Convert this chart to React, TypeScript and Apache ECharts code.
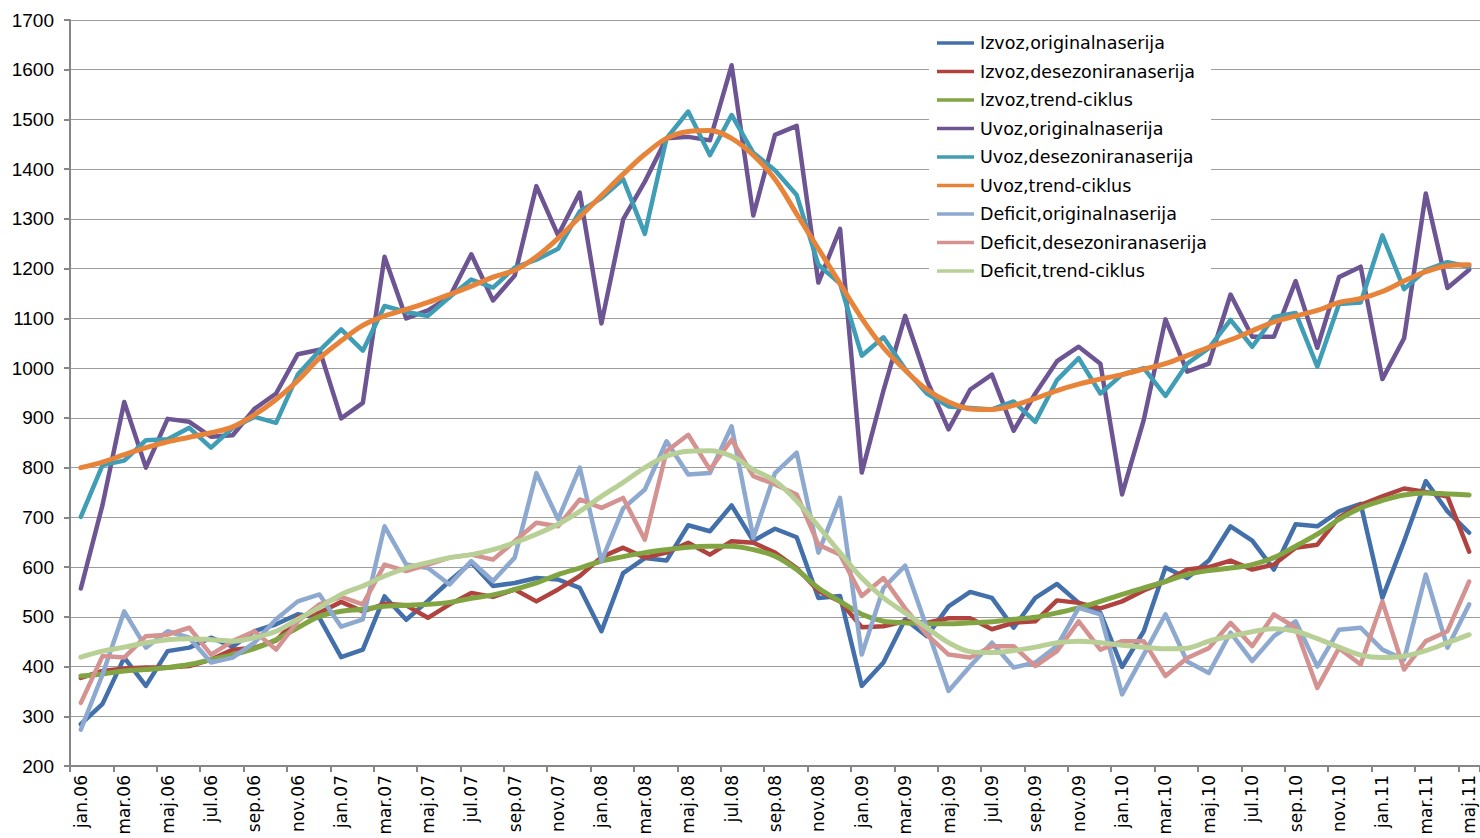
import React, { useEffect, useRef } from "react";
import * as echarts from "echarts";

const monthNames = ["jan", "feb", "mar", "apr", "maj", "jun", "jul", "avg", "sep", "okt", "nov", "dec"];
const years = ["06", "07", "08", "09", "10", "11"];
const categories: string[] = [];
for (const y of years) {
  for (const m of monthNames) {
    categories.push(m + "." + y);
  }
}
const months = categories.slice(0, 65);

const izvozOriginal = [284, 325, 418, 361, 431, 438, 458, 440, 471, 485, 505, 498, 419, 434, 541, 494, 532, 572, 609, 562, 568, 578, 575, 558, 471, 588, 618, 613, 684, 672, 724, 653, 677, 660, 538, 542, 361, 408, 495, 461, 521, 550, 538, 478, 538, 566, 528, 508, 399, 471, 599, 578, 613, 682, 653, 595, 686, 682, 712, 727, 538, 652, 773, 712, 669];
const izvozDesez = [377, 391, 396, 398, 398, 401, 414, 434, 438, 452, 499, 508, 530, 511, 526, 523, 498, 525, 548, 540, 555, 531, 555, 582, 620, 639, 619, 629, 649, 625, 652, 649, 629, 598, 552, 531, 479, 481, 491, 488, 497, 497, 475, 488, 491, 533, 528, 517, 531, 553, 571, 595, 600, 613, 595, 605, 639, 645, 700, 725, 742, 758, 751, 742, 631];
const izvozTrend = [381, 385, 391, 394, 398, 404, 414, 424, 436, 454, 478, 501, 511, 515, 521, 523, 525, 529, 537, 544, 555, 568, 585, 598, 612, 621, 629, 635, 640, 642, 642, 635, 622, 595, 558, 531, 505, 491, 488, 486, 486, 488, 490, 495, 499, 508, 518, 531, 545, 558, 571, 585, 593, 598, 605, 619, 642, 666, 696, 719, 734, 745, 749, 747, 745];
const uvozOriginal = [557, 725, 932, 800, 898, 892, 862, 865, 918, 949, 1028, 1037, 899, 930, 1224, 1100, 1116, 1143, 1229, 1136, 1186, 1366, 1267, 1353, 1090, 1299, 1375, 1462, 1465, 1458, 1609, 1307, 1469, 1487, 1172, 1280, 790, 955, 1105, 976, 877, 957, 987, 874, 949, 1014, 1043, 1009, 746, 896, 1098, 993, 1009, 1148, 1063, 1063, 1175, 1041, 1183, 1204, 978, 1060, 1351, 1161, 1198];
const uvozDesez = [701, 805, 814, 855, 857, 880, 840, 880, 902, 890, 987, 1035, 1078, 1035, 1125, 1113, 1105, 1143, 1178, 1162, 1202, 1218, 1240, 1315, 1342, 1380, 1270, 1462, 1516, 1428, 1509, 1433, 1398, 1348, 1208, 1170, 1025, 1062, 998, 949, 923, 920, 917, 933, 892, 976, 1020, 949, 987, 1000, 944, 1009, 1040, 1097, 1043, 1103, 1111, 1003, 1129, 1132, 1267, 1159, 1197, 1213, 1204];
const uvozTrend = [800, 811, 826, 840, 852, 861, 870, 882, 906, 937, 975, 1020, 1055, 1086, 1105, 1118, 1132, 1148, 1165, 1183, 1197, 1224, 1261, 1304, 1347, 1390, 1430, 1462, 1476, 1478, 1462, 1428, 1380, 1310, 1240, 1170, 1100, 1041, 996, 957, 932, 918, 917, 925, 939, 955, 968, 978, 987, 998, 1009, 1025, 1042, 1057, 1075, 1093, 1105, 1116, 1132, 1140, 1154, 1175, 1194, 1206, 1208];
const deficitOriginal = [273, 384, 511, 438, 471, 458, 408, 418, 448, 495, 531, 545, 480, 495, 682, 605, 598, 565, 612, 572, 619, 789, 696, 800, 612, 718, 756, 853, 786, 789, 883, 659, 789, 830, 629, 739, 424, 558, 603, 478, 351, 401, 448, 398, 408, 441, 518, 505, 344, 424, 505, 410, 387, 468, 411, 461, 491, 400, 474, 478, 434, 414, 585, 438, 525];
const deficitDesez = [327, 421, 418, 461, 464, 478, 424, 451, 471, 434, 491, 525, 540, 525, 605, 592, 605, 619, 625, 615, 652, 689, 682, 736, 719, 739, 655, 833, 866, 796, 856, 783, 766, 746, 645, 625, 542, 578, 517, 464, 424, 418, 441, 441, 401, 431, 491, 434, 451, 451, 381, 417, 437, 488, 441, 505, 478, 357, 437, 404, 531, 394, 451, 471, 571];
const deficitTrend = [419, 431, 439, 448, 454, 456, 454, 451, 458, 471, 495, 519, 545, 562, 582, 598, 609, 619, 625, 635, 649, 666, 686, 712, 742, 770, 800, 823, 833, 834, 823, 796, 773, 733, 682, 629, 578, 538, 508, 478, 448, 430, 428, 432, 439, 448, 451, 448, 443, 439, 436, 437, 451, 461, 470, 476, 471, 456, 439, 423, 418, 421, 432, 448, 464];

const seriesNames = [
  "Izvoz,originalnaserija",
  "Izvoz,desezoniranaserija",
  "Izvoz,trend-ciklus",
  "Uvoz,originalnaserija",
  "Uvoz,desezoniranaserija",
  "Uvoz,trend-ciklus",
  "Deficit,originalnaserija",
  "Deficit,desezoniranaserija",
  "Deficit,trend-ciklus",
];
const seriesData = [izvozOriginal, izvozDesez, izvozTrend, uvozOriginal, uvozDesez, uvozTrend, deficitOriginal, deficitDesez, deficitTrend];
const seriesColors = ["#4370AA", "#B0433F", "#82A543", "#6C5592", "#3F9DB6", "#E8843A", "#8EA9D0", "#D49290", "#B8CF96"];
const isTrend = [false, false, true, false, false, true, false, false, true];

const FONT = "'Liberation Sans', Arial, Helvetica, sans-serif";
const WIDE = "'DejaVu Sans', 'Liberation Sans', sans-serif";

export default function App() {
  const ref = useRef<HTMLDivElement>(null);
  useEffect(() => {
    document.body.style.margin = "0";
    if (!ref.current) return;
    const chart = echarts.init(ref.current, null, { renderer: "svg" });
    chart.setOption({
      animation: false,
      backgroundColor: "#ffffff",
      grid: { left: 70, top: 20, right: -9, bottom: 72, containLabel: false },
      legend: {
        orient: "vertical",
        left: 929,
        top: 27,
        backgroundColor: "#ffffff",
        padding: [6, 4, 8, 8],
        icon: "rect",
        itemWidth: 37,
        itemHeight: 3.5,
        itemGap: 8.5,
        textStyle: { fontFamily: WIDE, fontSize: 17.5, color: "#000", lineHeight: 20, padding: [0, 0, 0, 1] },
        data: seriesNames,
      },
      xAxis: {
        type: "category",
        data: months,
        boundaryGap: true,
        axisLine: { show: true, lineStyle: { color: "#868686", width: 2 } },
        axisTick: { show: true, interval: 1, length: 6, lineStyle: { color: "#868686", width: 2 } },
        axisLabel: { interval: 1, rotate: 90, margin: 9, fontFamily: WIDE, fontSize: 17, color: "#000" },
        splitLine: { show: false },
      },
      yAxis: {
        type: "value",
        min: 200,
        max: 1700,
        interval: 100,
        axisLine: { show: true, lineStyle: { color: "#868686", width: 2 } },
        axisTick: { show: true, length: 6, lineStyle: { color: "#868686", width: 2 } },
        axisLabel: {
          margin: 16,
          fontFamily: FONT,
          fontSize: 19,
          color: "#000",
          formatter: (v: number) => String(v),
        },
        splitLine: { show: true, lineStyle: { color: "#9c9c9c", width: 1.2 } },
      },
      series: seriesNames.map((name, k) => ({
        name,
        type: "line",
        data: seriesData[k],
        symbol: "none",
        smooth: isTrend[k] ? 0.35 : false,
        color: seriesColors[k],
        lineStyle: { color: seriesColors[k], width: isTrend[k] ? 5 : 4.5, cap: "round", join: "round" },
      })),
    });
    return () => chart.dispose();
  }, []);
  return <div ref={ref} style={{ position: "absolute", left: 0, top: 0, width: 1480, height: 838 }} />;
}
